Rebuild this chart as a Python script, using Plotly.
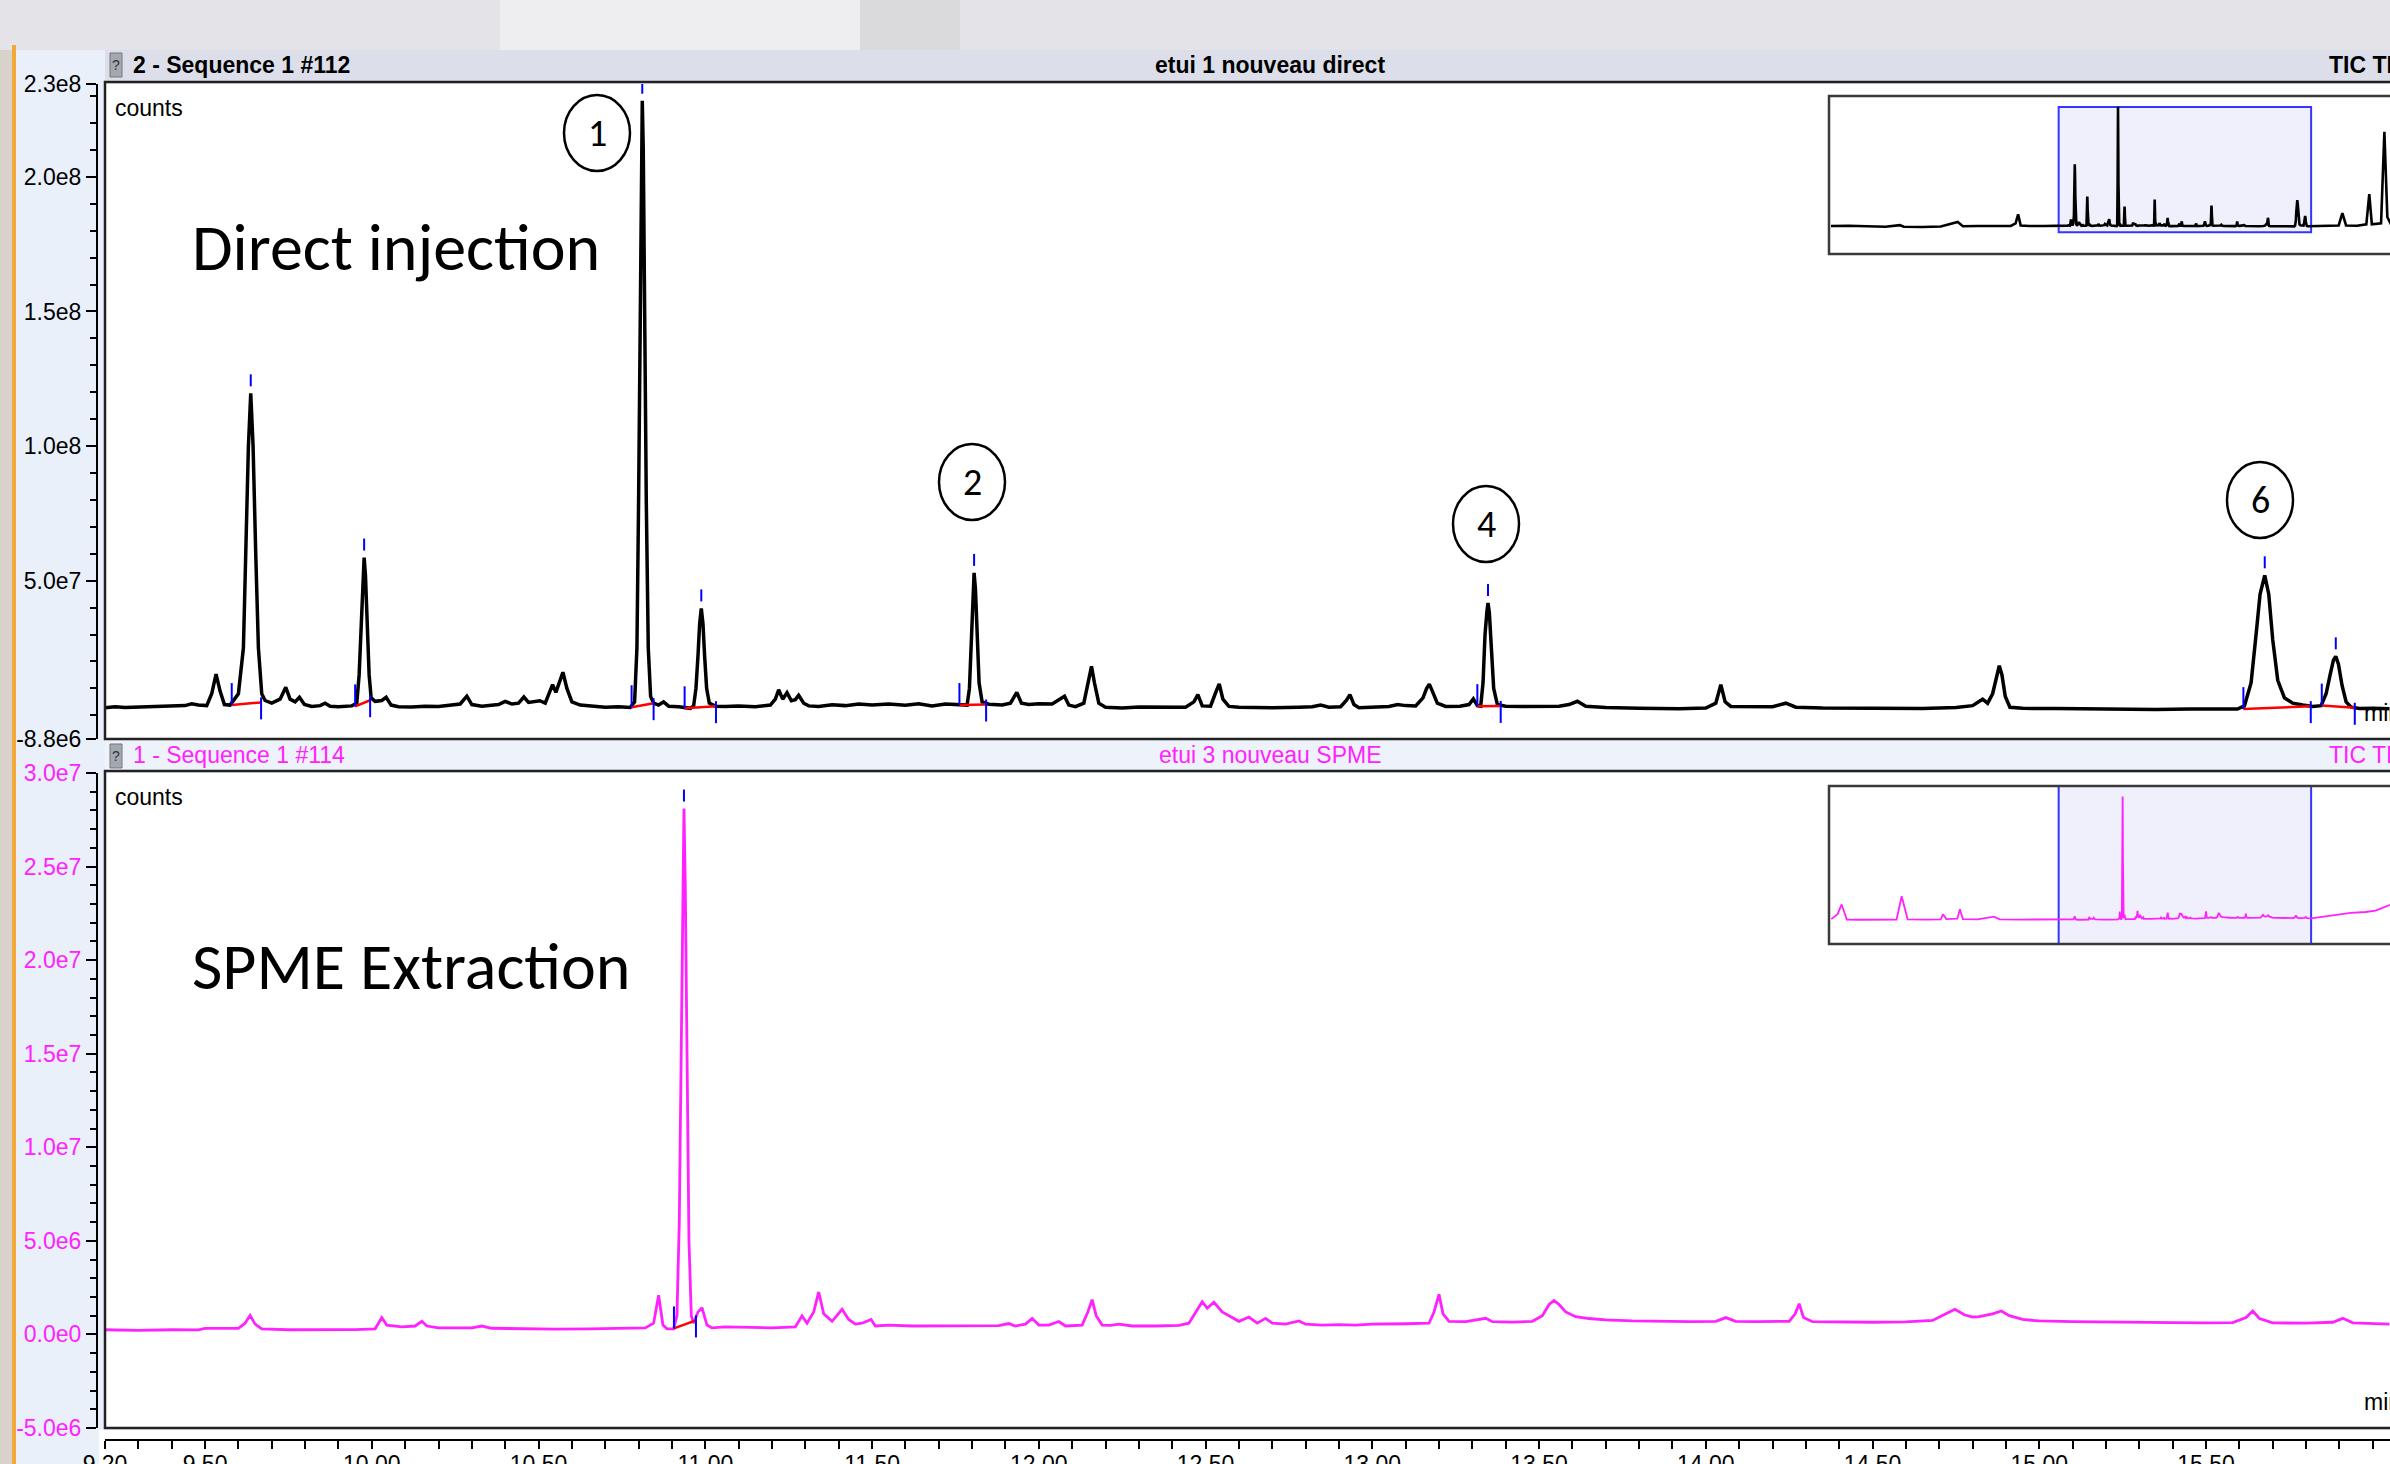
import plotly.graph_objects as go

W, H = 2390, 1464

# ---------------- DATA ----------------
# Top chromatogram (Direct injection), time [min], counts [millions]
top_t = [9.200, 9.23, 9.26, 9.30, 9.35, 9.40, 9.44, 9.46, 9.48, 9.505, 9.52, 9.533, 9.545, 9.558, 9.575,
         9.600, 9.615, 9.622, 9.630, 9.637, 9.644, 9.652, 9.660, 9.670, 9.680, 9.700, 9.725, 9.742, 9.755,
         9.770, 9.783, 9.798, 9.82, 9.845, 9.86, 9.875, 9.90, 9.94, 9.955, 9.962, 9.968, 9.973, 9.977, 9.981,
         9.986, 9.992, 9.998, 10.010, 10.030, 10.043, 10.058, 10.08, 10.12, 10.16, 10.20, 10.24, 10.265,
         10.285, 10.30, 10.33, 10.36, 10.38, 10.40, 10.42, 10.44, 10.456, 10.47, 10.49, 10.504, 10.52,
         10.532, 10.542, 10.552, 10.563, 10.573, 10.585, 10.60, 10.625, 10.66, 10.70, 10.74, 10.775,
         10.788, 10.795, 10.800, 10.805, 10.809, 10.811, 10.814, 10.818, 10.823, 10.829, 10.836, 10.845,
         10.86, 10.875, 10.89, 10.92, 10.955, 10.965, 10.972, 10.978, 10.983, 10.988, 10.993, 10.998,
         11.004, 11.012, 11.03, 11.06, 11.10, 11.15, 11.195, 11.21, 11.22, 11.232, 11.245, 11.258, 11.27,
         11.28, 11.295, 11.31, 11.34, 11.38, 11.42, 11.46, 11.50, 11.55, 11.60, 11.64, 11.68, 11.72, 11.76,
         11.785, 11.792, 11.798, 11.803, 11.806, 11.810, 11.815, 11.821, 11.830, 11.85, 11.89, 11.915,
         11.934, 11.948, 11.97, 12.00, 12.04, 12.065, 12.077, 12.09, 12.11, 12.135, 12.148, 12.158, 12.167,
         12.18, 12.20, 12.25, 12.30, 12.35, 12.40, 12.44, 12.465, 12.477, 12.49, 12.515, 12.532, 12.541,
         12.552, 12.57, 12.60, 12.70, 12.78, 12.82, 12.845, 12.87, 12.905, 12.922, 12.933, 12.945, 12.96,
         13.00, 13.05, 13.076, 13.10, 13.13, 13.152, 13.163, 13.171, 13.18, 13.195, 13.22, 13.263, 13.29,
         13.303, 13.315, 13.325, 13.332, 13.338, 13.344, 13.347, 13.351, 13.357, 13.364, 13.375, 13.40,
         13.45, 13.505, 13.53, 13.56, 13.59, 13.615, 13.64, 13.70, 13.80, 13.92, 14.00, 14.03, 14.045,
         14.058, 14.075, 14.11, 14.143, 14.20, 14.24, 14.27, 14.35, 14.45, 14.55, 14.65, 14.75, 14.80,
         14.83, 14.845, 14.86, 14.872, 14.880, 14.888, 14.898, 14.912, 14.95, 15.05, 15.15, 15.25, 15.35,
         15.45, 15.55, 15.594, 15.615, 15.635, 15.650, 15.662, 15.676, 15.688, 15.700, 15.715, 15.735,
         15.76, 15.79, 15.82, 15.845, 15.86, 15.872, 15.882, 15.889, 15.897, 15.908, 15.92, 15.935, 15.96,
         16.00, 16.05]
top_v = [2.8, 3.2, 2.9, 3.0, 3.1, 3.3, 3.6, 4.3, 3.8, 3.6, 8.0, 15.3, 9.0, 4.0, 3.8,
         8.0, 25.0, 60.0, 100.0, 119.6, 100.0, 60.0, 25.0, 8.0, 5.5, 4.5, 6.0, 10.4, 6.0,
         5.0, 6.7, 4.0, 3.3, 3.6, 4.5, 3.4, 3.2, 3.5, 4.5, 15.0, 35.0, 52.0, 58.6, 52.0,
         35.0, 15.0, 6.5, 5.2, 5.5, 6.7, 3.8, 3.2, 3.1, 3.4, 3.3, 3.9, 4.2,
         7.1, 4.0, 3.4, 3.6, 4.0, 5.2, 4.2, 4.5, 6.8, 4.8, 5.0, 5.4, 4.5,
         8.0, 11.4, 8.5, 13.0, 16.0, 10.0, 5.0, 3.8, 3.3, 3.0, 3.2, 2.9,
         5.0, 25.0, 80.0, 150.0, 210.0, 228.3, 210.0, 150.0, 80.0, 25.0, 7.0, 4.5,
         3.8, 5.0, 3.4, 3.2, 2.6, 3.5, 10.0, 22.0, 34.0, 39.7, 34.0, 22.0,
         10.0, 4.5, 3.4, 3.3, 3.5, 3.2, 3.8, 6.0, 9.5, 6.0, 8.4, 5.4, 5.8,
         7.4, 4.5, 3.5, 3.3, 3.9, 3.6, 4.2, 3.8, 4.2, 3.7, 4.3, 3.5, 4.2, 3.9,
         3.8, 10.0, 30.0, 48.0, 52.9, 47.0, 30.0, 12.0, 5.0, 4.1, 3.8, 4.5,
         8.5, 4.5, 4.0, 4.3, 4.2, 6.0, 7.1, 3.8, 3.2, 4.5, 13.0, 18.2, 12.0,
         4.5, 3.0, 2.7, 3.1, 3.0, 3.1, 3.0, 5.0, 7.7, 3.5, 3.4, 9.0, 11.7,
         6.0, 3.3, 3.0, 2.8, 3.0, 3.2, 3.8, 3.0, 3.2, 5.5, 7.7, 4.0, 2.8,
         2.9, 3.3, 4.0, 3.6, 3.5, 6.5, 10.0, 11.6, 9.0, 4.5, 3.3, 3.4, 4.0,
         6.1, 3.6, 3.4, 12.0, 30.0, 39.0, 41.7, 38.0, 25.0, 10.0, 4.0, 3.4,
         3.3, 3.4, 3.6, 3.4, 4.0, 5.2, 3.4, 2.9, 2.6, 2.4, 2.7, 4.5, 11.4,
         5.0, 3.3, 3.2, 3.3, 3.2, 4.5, 3.0, 2.7, 2.6, 2.8, 2.5, 2.9, 3.6,
         6.0, 4.5, 8.0, 15.0, 18.4, 15.0, 7.0, 3.0, 2.6, 2.5, 2.3, 2.4, 2.2,
         2.3, 2.2, 2.3, 3.5, 12.0, 30.0, 45.0, 52.0, 45.0, 28.0, 13.0, 6.5,
         4.5, 3.8, 3.3, 3.6, 8.0, 15.0, 20.5, 21.9, 19.0, 11.0, 5.0, 3.0, 2.5,
         2.6, 2.4]

# Bottom chromatogram (SPME extraction), time [min], counts [millions]
bot_t = [9.20, 9.30, 9.40, 9.48, 9.50, 9.60, 9.62, 9.635, 9.65, 9.67, 9.75, 9.85, 9.95, 10.01, 10.02,
         10.03, 10.045, 10.07, 10.09, 10.13, 10.15, 10.165, 10.20, 10.30, 10.33, 10.36, 10.45, 10.55,
         10.65, 10.75, 10.82, 10.845, 10.86, 10.873, 10.885, 10.905, 10.915, 10.922, 10.928, 10.933,
         10.936, 10.940, 10.945, 10.951, 10.958, 10.965, 10.978, 10.99, 11.005, 11.02, 11.06, 11.12,
         11.20, 11.27, 11.29, 11.305, 11.325, 11.34, 11.355, 11.38, 11.41, 11.43, 11.45, 11.47, 11.497,
         11.51, 11.55, 11.62, 11.72, 11.80, 11.88, 11.91, 11.93, 11.96, 11.98, 12.00, 12.03, 12.06,
         12.08, 12.13, 12.147, 12.16, 12.172, 12.19, 12.215, 12.24, 12.28, 12.35, 12.42, 12.45, 12.47,
         12.49, 12.505, 12.525, 12.55, 12.58, 12.60, 12.63, 12.655, 12.68, 12.70, 12.74, 12.78, 12.80,
         12.85, 12.90, 12.95, 13.00, 13.05, 13.10, 13.17, 13.185, 13.20, 13.212, 13.23, 13.28, 13.34,
         13.36, 13.42, 13.48, 13.51, 13.53, 13.545, 13.56, 13.58, 13.61, 13.65, 13.70, 13.78, 13.86,
         13.95, 14.03, 14.06, 14.09, 14.15, 14.25, 14.268, 14.28, 14.293, 14.32, 14.40, 14.50, 14.60,
         14.68, 14.72, 14.747, 14.775, 14.80, 14.82, 14.86, 14.886, 14.91, 14.95, 15.00, 15.10, 15.20,
         15.30, 15.40, 15.50, 15.58, 15.62, 15.64, 15.66, 15.70, 15.80, 15.88, 15.91, 15.94, 16.05]
bot_v = [0.25, 0.22, 0.25, 0.24, 0.32, 0.33, 0.6, 1.02, 0.55, 0.3, 0.25, 0.24, 0.26, 0.3, 0.6,
         0.9, 0.5, 0.45, 0.4, 0.45, 0.7, 0.45, 0.35, 0.35, 0.45, 0.33, 0.3, 0.28,
         0.3, 0.32, 0.35, 0.6, 2.09, 0.5, 0.3, 0.3, 1.0, 6.0, 16.0, 25.0,
         28.1, 24.0, 14.0, 5.0, 1.0, 0.6, 1.2, 1.43, 0.5, 0.35, 0.4, 0.38,
         0.35, 0.4, 0.99, 0.6, 1.2, 2.27, 1.1, 0.7, 1.34, 0.8, 0.55, 0.6, 0.8,
         0.45, 0.5, 0.45, 0.45, 0.45, 0.47, 0.58, 0.45, 0.55, 0.86, 0.5, 0.5, 0.69,
         0.45, 0.5, 1.2, 1.86, 1.0, 0.5, 0.48, 0.55, 0.45, 0.45, 0.48, 0.6, 1.2,
         1.75, 1.4, 1.72, 1.2, 0.9, 0.7, 0.93, 0.6, 0.86, 0.6, 0.55, 0.72, 0.55,
         0.5, 0.52, 0.5, 0.55, 0.55, 0.57, 0.6, 1.2, 2.14, 1.1, 0.7, 0.68, 0.86,
         0.68, 0.66, 0.7, 1.0, 1.6, 1.81, 1.6, 1.2, 0.95, 0.85, 0.78, 0.72, 0.7,
         0.68, 0.7, 0.9, 0.7, 0.68, 0.7, 1.1, 1.64, 0.9, 0.68, 0.66, 0.65, 0.67,
         0.75, 1.1, 1.34, 1.05, 0.93, 0.95, 1.1, 1.25, 1.0, 0.8, 0.72, 0.68, 0.65,
         0.64, 0.63, 0.62, 0.63, 0.9, 1.25, 0.85, 0.62, 0.6, 0.65, 0.86, 0.62, 0.55]

# Overview (inset) parts outside the zoom window
ovtop_pre_t = [3.02, 3.5, 4.0, 4.5, 4.89, 5.0, 5.5, 6.0, 6.46, 6.6, 7.0, 7.5, 7.9, 8.03, 8.10, 8.17, 8.4, 8.8, 9.2]
ovtop_pre_v = [3.0, 3.5, 2.5, 1.5, 4.5, 1.5, 1.0, 2.0, 10.5, 2.5, 3.0, 3.0, 3.0, 8.0, 24.9, 4.0, 3.0, 3.0, 2.8]
ovtop_post_t = [16.05, 16.4, 16.8, 16.9, 17.0, 17.3, 17.55, 17.63, 17.7, 17.95, 18.04, 18.12, 18.22]
ovtop_post_v = [2.4, 2.6, 4.0, 27.4, 4.0, 3.5, 6.0, 63.0, 6.0, 8.0, 181.0, 20.0, 6.0]
ovbot_pre_t = [3.03, 3.2, 3.31, 3.45, 3.8, 4.3, 4.8, 4.94, 5.1, 5.6, 6.0, 6.06, 6.15, 6.45, 6.52, 6.6,
               7.0, 7.44, 7.6, 8.2, 8.8, 9.2]
ovbot_pre_v = [0.4, 1.5, 3.7, 0.3, 0.25, 0.3, 0.3, 5.56, 0.35, 0.3, 0.35, 1.5, 0.4, 0.5, 2.6, 0.4,
               0.35, 0.95, 0.35, 0.3, 0.28, 0.25]
ovbot_post_t = [16.05, 16.3, 16.52, 16.8, 17.13, 17.53, 17.8, 18.04, 18.22]
ovbot_post_v = [0.55, 0.8, 1.1, 1.4, 1.8, 2.0, 2.3, 3.1, 3.7]

# Integrated peaks (top): apex, start, end
tp_apex_t = [9.637, 9.977, 10.811, 10.988, 11.806, 13.347, 15.676, 15.889]
tp_apex_v = [119.6, 58.6, 228.3, 39.7, 52.9, 41.7, 52.0, 21.9]
tp_start_t = [9.580, 9.950, 10.779, 10.938, 11.762, 13.315, 15.612, 15.847]
tp_start_v = [3.8, 3.3, 3.0, 2.6, 3.8, 3.4, 2.3, 3.6]
tp_end_t = [9.668, 9.995, 10.845, 11.032, 11.842, 13.385, 15.814, 15.946]
tp_end_v = [4.8, 5.6, 4.5, 3.4, 4.0, 3.5, 3.4, 2.8]
# Integrated peak (bottom)
bp_apex_t = [10.936]
bp_apex_v = [28.1]
bp_start_t = [10.906]
bp_start_v = [0.32]
bp_end_t = [10.972]
bp_end_v = [0.75]

# Axis ticks
x_ticks = [9.2, 9.5, 10.0, 10.5, 11.0, 11.5, 12.0, 12.5, 13.0, 13.5, 14.0, 14.5, 15.0, 15.5, 16.0]
top_yrange = [-8.8e6, 2.345e8]
top_ytickvals = [-8.8e6, 5e7, 1e8, 1.5e8, 2e8, 2.345e8]
top_yticktext = ["-8.8e6", "5.0e7", "1.0e8", "1.5e8", "2.0e8", "2.3e8"]
bot_yrange = [-5e6, 3e7]
bot_ytickvals = [-5e6, 0, 5e6, 1e7, 1.5e7, 2e7, 2.5e7, 3e7]
bot_yticktext = ["-5.0e6", "0.0e0", "5.0e6", "1.0e7", "1.5e7", "2.0e7", "2.5e7", "3.0e7"]

peak_labels = ["1", "2", "4", "6"]

M = 1e6
top_counts = [v * M for v in top_v]
bot_counts = [v * M for v in bot_v]

# ---------------- GEOMETRY HELPERS ----------------
def px(x):
    return x / W

def py(y):
    return 1 - y / H

TOP_Y0, TOP_Y1 = 84, 739
BOT_Y0, BOT_Y1 = 773, 1428
PLOT_X0 = 105
top_upp = (top_yrange[1] - top_yrange[0]) / (TOP_Y1 - TOP_Y0)
bot_upp = (bot_yrange[1] - bot_yrange[0]) / (BOT_Y1 - BOT_Y0)

MAG = "#ff22ff"
BLUE = "#0000ff"
RED = "#ff0000"
FONT = "Liberation Sans Narrow, Arial Narrow, Liberation Sans, Arial, sans-serif"
BIG = "Carlito, Lato, Open Sans, sans-serif"

def marks(at, av, st, sv, et, ev, upp):
    bx, by, rx, ry = [], [], [], []
    for i in range(len(at)):
        bx += [st[i], st[i], None]
        by += [sv[i] * M, sv[i] * M + 22 * upp, None]
        bx += [et[i], et[i], None]
        by += [ev[i] * M + 5 * upp, ev[i] * M - 17 * upp, None]
        bx += [at[i], at[i], None]
        by += [av[i] * M + 7 * upp, av[i] * M + 19 * upp, None]
        rx += [st[i], et[i], None]
        ry += [sv[i] * M, ev[i] * M, None]
    return bx, by, rx, ry

fig = go.Figure()

# main traces
fig.add_trace(go.Scatter(x=top_t, y=top_counts, mode="lines", line=dict(color="black", width=3.5),
                         xaxis="x", yaxis="y", hoverinfo="skip"))
tbx, tby, trx, try_ = marks(tp_apex_t, tp_apex_v, tp_start_t, tp_start_v, tp_end_t, tp_end_v, top_upp)
fig.add_trace(go.Scatter(x=trx, y=try_, mode="lines", line=dict(color=RED, width=2.5),
                         xaxis="x", yaxis="y", hoverinfo="skip"))
fig.add_trace(go.Scatter(x=tbx, y=tby, mode="lines", line=dict(color=BLUE, width=2),
                         xaxis="x", yaxis="y", hoverinfo="skip"))

fig.add_trace(go.Scatter(x=bot_t, y=bot_counts, mode="lines", line=dict(color=MAG, width=2.8),
                         xaxis="x2", yaxis="y2", hoverinfo="skip"))
bbx, bby, brx, bry = marks(bp_apex_t, bp_apex_v, bp_start_t, bp_start_v, bp_end_t, bp_end_v, bot_upp)
fig.add_trace(go.Scatter(x=brx, y=bry, mode="lines", line=dict(color=RED, width=2.5),
                         xaxis="x2", yaxis="y2", hoverinfo="skip"))
fig.add_trace(go.Scatter(x=bbx, y=bby, mode="lines", line=dict(color=BLUE, width=2),
                         xaxis="x2", yaxis="y2", hoverinfo="skip"))

# inset traces
fig.add_trace(go.Scatter(x=ovtop_pre_t + top_t + ovtop_post_t,
                         y=[v * M for v in ovtop_pre_v] + top_counts + [v * M for v in ovtop_post_v],
                         mode="lines", line=dict(color="black", width=2.6),
                         xaxis="x3", yaxis="y3", hoverinfo="skip"))
fig.add_trace(go.Scatter(x=ovbot_pre_t + bot_t + ovbot_post_t,
                         y=[v * M for v in ovbot_pre_v] + bot_counts + [v * M for v in ovbot_post_v],
                         mode="lines", line=dict(color=MAG, width=1.8),
                         xaxis="x4", yaxis="y4", hoverinfo="skip"))

xr = [x_ticks[0], x_ticks[0] + (W - PLOT_X0) / 333.5]
minor_x = [round(9.2 + 0.1 * k, 2) for k in range(0, 70)]
INSET_X0 = 1829
inset_xr = [xr[0] - (2057 - INSET_X0) / 36.9, xr[1] + (W - 2311) / 36.9]

common_y = dict(anchor="free", position=px(97), side="left", showline=True, linecolor="black",
                linewidth=2, ticks="outside", ticklen=10, tickwidth=2, tickcolor="black",
                showgrid=False, zeroline=False, tickmode="array")

fig.update_layout(
    width=W, height=H, margin=dict(l=0, r=0, t=0, b=0, autoexpand=False),
    paper_bgcolor="#e9f0fa", plot_bgcolor="rgba(0,0,0,0)", showlegend=False,
    xaxis=dict(domain=[px(PLOT_X0), 1], range=xr, visible=False, anchor="y"),
    yaxis=dict(domain=[py(TOP_Y1), py(TOP_Y0)], range=top_yrange, tickvals=top_ytickvals,
               ticktext=top_yticktext, tickfont=dict(family=FONT, size=23, color="black"),
               minor=dict(tickmode="array", tickvals=[k * 1e7 for k in range(0, 24)], ticklen=6,
                          tickwidth=1.5, ticks="outside", tickcolor="black"),
               **common_y),
    xaxis2=dict(domain=[px(PLOT_X0), 1], range=xr, anchor="free", position=py(1440),
                showline=True, linecolor="black", linewidth=2, ticks="outside", ticklen=8,
                tickwidth=2, tickcolor="black", tickmode="array", tickvals=x_ticks,
                ticktext=["%.2f" % v for v in x_ticks], ticklabelstandoff=-5,
                tickfont=dict(family=FONT, size=23, color="black"), showgrid=False, zeroline=False,
                minor=dict(tickmode="array", tickvals=minor_x, ticklen=8, tickwidth=1.5,
                           ticks="outside", tickcolor="black")),
    yaxis2=dict(domain=[py(BOT_Y1), py(BOT_Y0)], range=bot_yrange, tickvals=bot_ytickvals,
                ticktext=bot_yticktext, tickfont=dict(family=FONT, size=23, color=MAG),
                minor=dict(tickmode="array", tickvals=[k * 1e6 for k in range(-5, 31)], ticklen=6,
                           tickwidth=1.5, ticks="outside", tickcolor="black"),
                **common_y),
    xaxis3=dict(domain=[px(INSET_X0 + 2), 1], range=inset_xr, visible=False, anchor="y3"),
    yaxis3=dict(domain=[py(254), py(97)], range=[-50e6, 246.8e6], visible=False, anchor="x3"),
    xaxis4=dict(domain=[px(INSET_X0 + 2), 1], range=inset_xr, visible=False, anchor="y4"),
    yaxis4=dict(domain=[py(943), py(788)], range=bot_yrange, visible=False, anchor="x4"),
)

shapes = []
def prect(x0, y0, x1, y1, fill=None, line=None, lw=0, layer="below"):
    d = dict(type="rect", xref="paper", yref="paper", x0=px(x0), x1=px(x1), y0=py(y1), y1=py(y0),
             layer=layer, line=dict(width=lw, color=line if line else "rgba(0,0,0,0)"))
    if fill:
        d["fillcolor"] = fill
    shapes.append(d)

# backgrounds
prect(0, 0, W, 50, fill="#e4e4e8")
prect(500, 0, 860, 50, fill="#eeeef0")
prect(860, 0, 960, 50, fill="#dadadc")
prect(0, 50, 12, H, fill="#d8d2ca")
prect(12, 45, 16, H, fill="#f2a93b")
prect(PLOT_X0, TOP_Y0, W + 10, TOP_Y1, fill="white")
prect(PLOT_X0, BOT_Y0, W + 10, BOT_Y1, fill="white")
prect(99, BOT_Y1 + 2, W + 10, H + 5, fill="white")
# header bars
prect(PLOT_X0, 50, W + 10, 82, fill="#dcdfea")
prect(PLOT_X0, 741, W + 10, 771, fill="#eef2fb")
prect(110, 53, 122, 77, fill="#a3a9b1", line="#777", lw=1)
prect(110, 744, 122, 768, fill="#a3a9b1", line="#777", lw=1)
# insets (white ground below, border above)
prect(INSET_X0, 96, W + 20, 254, fill="white")
prect(INSET_X0, 786, W + 20, 944, fill="white")
prect(INSET_X0, 96, W + 20, 254, line="#3a3a3a", lw=2.5, layer="above")
prect(INSET_X0, 786, W + 20, 944, line="#3a3a3a", lw=2.5, layer="above")
# frames
prect(PLOT_X0, 82, W + 10, TOP_Y1, line="#222222", lw=2.5, layer="above")
prect(PLOT_X0, 771, W + 10, BOT_Y1, line="#222222", lw=2.5, layer="above")

# inset zoom windows
shapes.append(dict(type="rect", xref="x3", yref="y3", x0=xr[0], x1=xr[1], y0=top_yrange[0],
                   y1=2.28e8, fillcolor="#eff0fb", line=dict(color="#3535ff", width=2), layer="below"))
shapes.append(dict(type="rect", xref="x4", yref="paper", x0=xr[0], x1=xr[1], y0=py(944), y1=py(786),
                   fillcolor="#eff0fb", line=dict(color="#3535ff", width=2), layer="below"))

# peak circles
circ = [(597, 133), (972, 482), (1486, 524), (2260, 500)]
for (cx, cy) in circ:
    shapes.append(dict(type="circle", xref="paper", yref="paper", x0=px(cx - 33), x1=px(cx + 33),
                       y0=py(cy + 38), y1=py(cy - 38), line=dict(color="black", width=2.5), layer="above"))
fig.update_layout(shapes=shapes)

ann = []
def text(x, y, s, size, color="black", xanchor="left", family=FONT, bold=False):
    ann.append(dict(xref="paper", yref="paper", x=px(x), y=py(y), text=("<b>%s</b>" % s) if bold else s,
                    showarrow=False, xanchor=xanchor, yanchor="middle",
                    font=dict(family=family, size=size, color=color)))

text(131, 65, "2 - Sequence 1 #112", 23, bold=True)
text(1270, 65, "etui 1 nouveau direct", 23, xanchor="center", bold=True)
text(2327, 65, "TIC TIC", 23, bold=True)
text(131, 755, "1 - Sequence 1 #114", 23, color=MAG)
text(1270, 755, "etui 3 nouveau SPME", 23, color=MAG, xanchor="center")
text(2327, 755, "TIC TIC", 23, color=MAG)
text(113, 108, "counts", 23)
text(113, 797, "counts", 23)
text(2362, 713, "min", 23)
text(2362, 1402, "min", 23)
text(116, 65, "?", 14, color="#333", xanchor="center")
text(116, 756, "?", 14, color="#333", xanchor="center")
text(190, 248, "Direct injection", 66, family=BIG)
text(190, 966, "SPME Extraction", 66, family=BIG)
for (cx, cy), lab in zip(circ, peak_labels):
    text(cx, cy, lab, 38, xanchor="center", family=BIG)
fig.update_layout(annotations=ann)

fig.write_html("out.html", config={"displayModeBar": False},
               post_script="document.body.style.margin='0';document.body.style.overflow='hidden';")
